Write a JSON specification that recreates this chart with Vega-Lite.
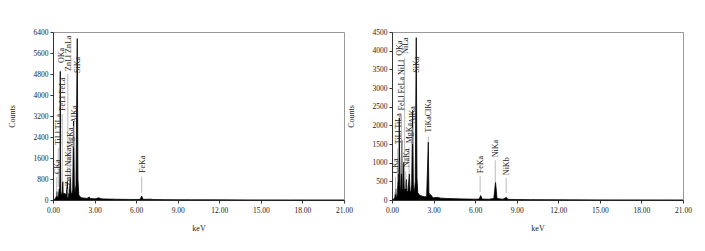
{
  "$schema": "https://vega.github.io/schema/vega-lite/v6.json",
  "background": "white",
  "padding": {"left": 7, "top": 27, "right": 5, "bottom": 5},
  "spacing": -7,
  "config": {
    "view": {"stroke": "#999", "strokeWidth": 1},
    "axis": {
      "labelFont": "Liberation Serif", "labelFontSize": 7.5, "labelColor": "#222",
      "titleFont": "Liberation Serif", "titleFontSize": 8, "titleFontWeight": "normal", "titleColor": "#222",
      "domainColor": "#333", "tickColor": "#333", "tickSize": 3, "grid": false,
      "labelFlush": false, "labelOverlap": false, "tickCount": 50
    },
    "text": {"font": "Liberation Serif", "fontSize": 8, "color": "#222"}
  },
  "datasets": {
    "specA": [
      {"keV": 0.0, "counts": 0}, {"keV": 0.1, "counts": 20}, {"keV": 0.2, "counts": 80}, {"keV": 0.25, "counts": 150},
      {"keV": 0.277, "counts": 320}, {"keV": 0.3, "counts": 120}, {"keV": 0.36, "counts": 90}, {"keV": 0.4, "counts": 200},
      {"keV": 0.45, "counts": 420}, {"keV": 0.48, "counts": 300}, {"keV": 0.51, "counts": 1500}, {"keV": 0.525, "counts": 4900},
      {"keV": 0.54, "counts": 1500}, {"keV": 0.57, "counts": 300}, {"keV": 0.62, "counts": 150}, {"keV": 0.68, "counts": 350},
      {"keV": 0.705, "counts": 700}, {"keV": 0.73, "counts": 300}, {"keV": 0.78, "counts": 200}, {"keV": 0.85, "counts": 260},
      {"keV": 0.9, "counts": 180}, {"keV": 0.96, "counts": 250}, {"keV": 1.01, "counts": 500}, {"keV": 1.04, "counts": 720},
      {"keV": 1.07, "counts": 300}, {"keV": 1.12, "counts": 200}, {"keV": 1.18, "counts": 260}, {"keV": 1.25, "counts": 850},
      {"keV": 1.3, "counts": 300}, {"keV": 1.36, "counts": 200}, {"keV": 1.42, "counts": 400}, {"keV": 1.49, "counts": 3000},
      {"keV": 1.54, "counts": 500}, {"keV": 1.6, "counts": 250}, {"keV": 1.66, "counts": 600}, {"keV": 1.75, "counts": 6150},
      {"keV": 1.8, "counts": 800}, {"keV": 1.86, "counts": 200}, {"keV": 1.95, "counts": 120}, {"keV": 2.05, "counts": 90},
      {"keV": 2.15, "counts": 80}, {"keV": 2.3, "counts": 70}, {"keV": 2.45, "counts": 60}, {"keV": 2.62, "counts": 110},
      {"keV": 2.7, "counts": 60}, {"keV": 2.9, "counts": 50}, {"keV": 3.1, "counts": 45}, {"keV": 3.31, "counts": 90},
      {"keV": 3.45, "counts": 45}, {"keV": 3.7, "counts": 40}, {"keV": 4.0, "counts": 35}, {"keV": 4.5, "counts": 30},
      {"keV": 5.0, "counts": 25}, {"keV": 5.5, "counts": 22}, {"keV": 6.0, "counts": 20}, {"keV": 6.3, "counts": 25},
      {"keV": 6.4, "counts": 150}, {"keV": 6.5, "counts": 25}, {"keV": 7.06, "counts": 30}, {"keV": 7.2, "counts": 18},
      {"keV": 8.0, "counts": 14}, {"keV": 9.0, "counts": 10}, {"keV": 10.0, "counts": 8}, {"keV": 12.0, "counts": 5},
      {"keV": 14.0, "counts": 3}, {"keV": 17.0, "counts": 2}, {"keV": 21.0, "counts": 1}
    ],
    "specB": [
      {"keV": 0.0, "counts": 0}, {"keV": 0.1, "counts": 20}, {"keV": 0.2, "counts": 60}, {"keV": 0.277, "counts": 300},
      {"keV": 0.3, "counts": 100}, {"keV": 0.36, "counts": 80}, {"keV": 0.4, "counts": 250}, {"keV": 0.452, "counts": 700},
      {"keV": 0.49, "counts": 400}, {"keV": 0.525, "counts": 2200}, {"keV": 0.56, "counts": 400}, {"keV": 0.62, "counts": 200},
      {"keV": 0.705, "counts": 1600}, {"keV": 0.74, "counts": 300}, {"keV": 0.78, "counts": 200}, {"keV": 0.85, "counts": 1000},
      {"keV": 0.88, "counts": 300}, {"keV": 0.93, "counts": 250}, {"keV": 1.01, "counts": 500}, {"keV": 1.04, "counts": 550},
      {"keV": 1.08, "counts": 250}, {"keV": 1.15, "counts": 200}, {"keV": 1.25, "counts": 700}, {"keV": 1.3, "counts": 250},
      {"keV": 1.36, "counts": 200}, {"keV": 1.42, "counts": 400}, {"keV": 1.49, "counts": 2400}, {"keV": 1.54, "counts": 400},
      {"keV": 1.62, "counts": 200}, {"keV": 1.68, "counts": 500}, {"keV": 1.75, "counts": 4350}, {"keV": 1.8, "counts": 600},
      {"keV": 1.86, "counts": 200}, {"keV": 1.95, "counts": 140}, {"keV": 2.05, "counts": 120}, {"keV": 2.2, "counts": 100},
      {"keV": 2.35, "counts": 90}, {"keV": 2.5, "counts": 90}, {"keV": 2.62, "counts": 1550}, {"keV": 2.66, "counts": 200},
      {"keV": 2.72, "counts": 150}, {"keV": 2.8, "counts": 140}, {"keV": 2.9, "counts": 80}, {"keV": 3.0, "counts": 60},
      {"keV": 3.3, "counts": 70}, {"keV": 3.5, "counts": 50}, {"keV": 4.0, "counts": 40}, {"keV": 4.5, "counts": 35},
      {"keV": 5.0, "counts": 30}, {"keV": 5.5, "counts": 25}, {"keV": 6.0, "counts": 22}, {"keV": 6.3, "counts": 25},
      {"keV": 6.4, "counts": 120}, {"keV": 6.5, "counts": 25}, {"keV": 7.0, "counts": 20}, {"keV": 7.35, "counts": 40},
      {"keV": 7.47, "counts": 480}, {"keV": 7.58, "counts": 40}, {"keV": 8.0, "counts": 20}, {"keV": 8.26, "counts": 70},
      {"keV": 8.35, "counts": 18}, {"keV": 9.0, "counts": 12}, {"keV": 10.0, "counts": 10}, {"keV": 12.0, "counts": 6},
      {"keV": 15.0, "counts": 3}, {"keV": 21.0, "counts": 1}
    ],
    "labA": [
      {"label": "CKa", "e": 0.27, "ty": 990, "l1": 880, "l2": 150},
      {"label": "TiLl TiLa", "e": 0.38, "ty": 2095, "l1": 1980, "l2": 500},
      {"label": "FeLl FeLa", "e": 0.67, "ty": 3390, "l1": 3280, "l2": 700},
      {"label": "OKa", "e": 0.56, "ty": 5220, "l1": 5100, "l2": 5100},
      {"label": "ZnLl ZnLa", "e": 1.07, "ty": 4914, "l1": 4800, "l2": 700},
      {"label": "ZnLb NaKa", "e": 1.07, "ty": 533, "l1": 420, "l2": 100},
      {"label": "MgKa", "e": 1.23, "ty": 1981, "l1": 1870, "l2": 800},
      {"label": "AlKa", "e": 1.49, "ty": 2933, "l1": 2820, "l2": 2000},
      {"label": "SiKa", "e": 1.74, "ty": 4838, "l1": 4720, "l2": 4720},
      {"label": "FeKa", "e": 6.4, "ty": 1029, "l1": 890, "l2": 270}
    ],
    "labB": [
      {"label": "CKa", "e": 0.25, "ty": 719, "l1": 620, "l2": 150},
      {"label": "TiLl TiLa", "e": 0.41, "ty": 1491, "l1": 1380, "l2": 500},
      {"label": "FeLl FeLa NiLl", "e": 0.68, "ty": 2397, "l1": 2290, "l2": 700},
      {"label": "OKa", "e": 0.51, "ty": 3861, "l1": 3861, "l2": 3861},
      {"label": "NiLa", "e": 0.91, "ty": 3915, "l1": 3800, "l2": 1000},
      {"label": "NaKa", "e": 0.99, "ty": 879, "l1": 770, "l2": 300},
      {"label": "MgKa", "e": 1.23, "ty": 1518, "l1": 1410, "l2": 700},
      {"label": "AlKa", "e": 1.47, "ty": 2050, "l1": 1940, "l2": 1500},
      {"label": "SiKa", "e": 1.72, "ty": 3409, "l1": 3300, "l2": 3300},
      {"label": "TiKaClKa", "e": 2.62, "ty": 1811, "l1": 1700, "l2": 1550},
      {"label": "FeKa", "e": 6.36, "ty": 719, "l1": 640, "l2": 213},
      {"label": "NiKa", "e": 7.45, "ty": 1145, "l1": 1065, "l2": 460},
      {"label": "NiKb", "e": 8.24, "ty": 666, "l1": 586, "l2": 186}
    ]
  },
  "hconcat": [
    {
      "width": 291, "height": 168,
      "layer": [
        {
          "data": {"name": "specA"},
          "mark": {"type": "area", "color": "black", "opacity": 1, "line": {"color": "black", "strokeWidth": 0.8}},
          "encoding": {
            "x": {"field": "keV", "type": "quantitative", "scale": {"domain": [0, 21], "nice": false},
                  "axis": {"values": [0, 3, 6, 9, 12, 15, 18, 21], "format": ".2f", "title": "keV", "labelPadding": 3, "titlePadding": 11, "labelOverlap": false, "tickCount": 50}},
            "y": {"field": "counts", "type": "quantitative", "scale": {"domain": [0, 6400], "nice": false},
                  "axis": {"values": [0, 800, 1600, 2400, 3200, 4000, 4800, 5600, 6400], "format": "d", "title": "Counts", "labelPadding": 2, "titlePadding": 17, "labelOverlap": false, "tickCount": 50}}
          }
        },
        {
          "data": {"name": "labA"},
          "mark": {"type": "rule", "color": "#aaa", "strokeWidth": 0.8},
          "encoding": {"x": {"field": "e", "type": "quantitative"}, "y": {"field": "l1", "type": "quantitative"}, "y2": {"field": "l2"}}
        },
        {
          "data": {"name": "labA"},
          "mark": {"type": "text", "angle": 270, "align": "left", "baseline": "middle", "dy": 1},
          "encoding": {"x": {"field": "e", "type": "quantitative"}, "y": {"field": "ty", "type": "quantitative"}, "text": {"field": "label"}}
        },
        {
          "mark": {"type": "text", "font": "Liberation Sans", "fontSize": 12.5, "color": "#111", "align": "center", "baseline": "middle"},
          "encoding": {"x": {"datum": 19.85, "type": "quantitative"}, "y": {"datum": 5714, "type": "quantitative"}, "text": {"value": "(a)"}}
        }
      ]
    },
    {
      "width": 291, "height": 168,
      "layer": [
        {
          "data": {"name": "specB"},
          "mark": {"type": "area", "color": "black", "opacity": 1, "line": {"color": "black", "strokeWidth": 0.8}},
          "encoding": {
            "x": {"field": "keV", "type": "quantitative", "scale": {"domain": [0, 21], "nice": false},
                  "axis": {"values": [0, 3, 6, 9, 12, 15, 18, 21], "format": ".2f", "title": "keV", "labelPadding": 3, "titlePadding": 11, "labelOverlap": false, "tickCount": 50}},
            "y": {"field": "counts", "type": "quantitative", "scale": {"domain": [0, 4500], "nice": false},
                  "axis": {"values": [0, 500, 1000, 1500, 2000, 2500, 3000, 3500, 4000, 4500], "format": "d", "title": "Counts", "labelPadding": 2, "titlePadding": 17, "labelOverlap": false, "tickCount": 50}}
          }
        },
        {
          "data": {"name": "labB"},
          "mark": {"type": "rule", "color": "#aaa", "strokeWidth": 0.8},
          "encoding": {"x": {"field": "e", "type": "quantitative"}, "y": {"field": "l1", "type": "quantitative"}, "y2": {"field": "l2"}}
        },
        {
          "data": {"name": "labB"},
          "mark": {"type": "text", "angle": 270, "align": "left", "baseline": "middle", "dy": 1},
          "encoding": {"x": {"field": "e", "type": "quantitative"}, "y": {"field": "ty", "type": "quantitative"}, "text": {"field": "label"}}
        },
        {
          "mark": {"type": "text", "font": "Liberation Sans", "fontSize": 12.5, "color": "#111", "align": "center", "baseline": "middle"},
          "encoding": {"x": {"datum": 19.63, "type": "quantitative"}, "y": {"datum": 3995, "type": "quantitative"}, "text": {"value": "(b)"}}
        }
      ]
    }
  ]
}
